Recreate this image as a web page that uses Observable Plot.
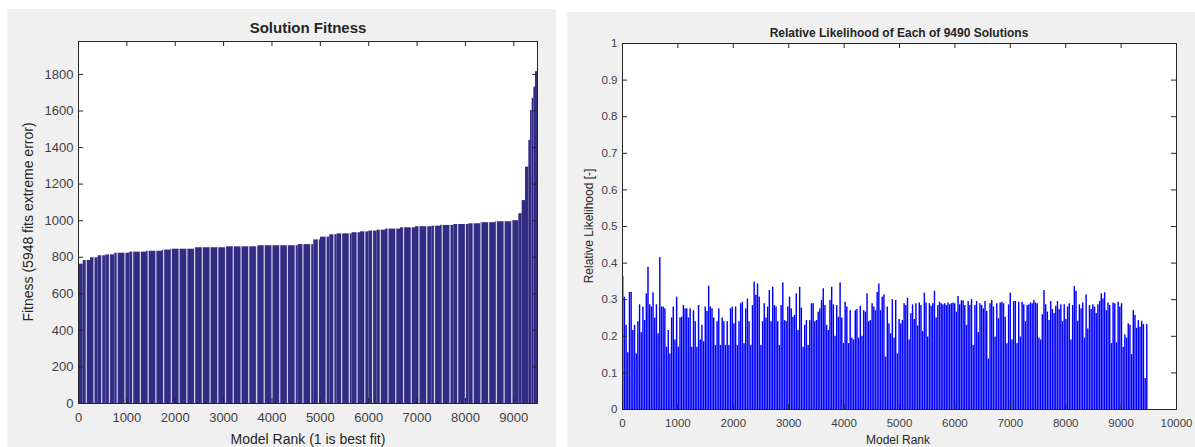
<!DOCTYPE html>
<html>
<head>
<meta charset="utf-8">
<script src="https://cdn.jsdelivr.net/npm/d3@7"></script>
<script src="https://cdn.jsdelivr.net/npm/@observablehq/plot@0.6"></script>
<style>
  html, body { margin: 0; padding: 0; background: #ffffff; width: 1195px; height: 447px; overflow: hidden; }
  body { position: relative; font-family: "Liberation Sans", Arial, Helvetica, sans-serif; color: #262626; }
  .panel { position: absolute; background: #f0f0f0; overflow: hidden; }
  .panel svg { position: absolute; left: 0; top: 0; }
  .lbl { position: absolute; white-space: nowrap; text-align: center; color: #262626; }
  .rot { transform: translate(-50%, -50%) rotate(-90deg); }
  .hc { transform: translate(-50%, -50%); }
</style>
</head>
<body>
<div id="left" class="panel" style="left:7px; top:9px; width:549px; height:438px;"></div>
<div id="right" class="panel" style="left:567px; top:12px; width:628px; height:435px;"></div>

<div class="lbl hc" style="left:308px; top:27px; font-size:15px; font-weight:bold;">Solution Fitness</div>
<div class="lbl rot" style="left:28px; top:222px; font-size:14px;">Fitness (5948 fits extreme error)</div>
<div class="lbl hc" style="left:308px; top:439px; font-size:14px;">Model Rank (1 is best fit)</div>

<div class="lbl hc" style="left:899px; top:33px; font-size:12px; font-weight:bold;">Relative Likelihood of Each of 9490 Solutions</div>
<div class="lbl rot" style="left:589px; top:226px; font-size:12px;">Relative Likelihood [-]</div>
<div class="lbl hc" style="left:898px; top:440px; font-size:12px;">Model Rank</div>

<script>
// ---------- Left chart data: sorted fitness (step segments by model rank) ----------
const nSolutions = 9490;
const fitRankStart = [0, 97, 248, 407, 565, 751, 1062, 1406, 1737, 1902, 2405, 3060, 3715, 4542, 4865, 5003, 5196, 5348, 5658, 5830, 6003, 6175, 6347, 6657, 6967, 7312, 7484, 7760, 8070, 8311, 8622, 8966, 9104, 9173, 9242, 9311, 9346, 9380, 9415, 9449];
const fitness      = [762, 782, 797, 808, 813, 822, 828, 833, 839, 844, 852, 857, 863, 869, 895, 910, 923, 928, 934, 939, 943, 948, 954, 961, 967, 970, 974, 979, 983, 989, 994, 1000, 1038, 1110, 1293, 1439, 1603, 1669, 1731, 1815];
const fitYTicks = [0, 200, 400, 600, 800, 1000, 1200, 1400, 1600, 1800];
const fitXTicks = [0, 1000, 2000, 3000, 4000, 5000, 6000, 7000, 8000, 9000];

// ---------- Right chart data: relative likelihood, in rank order ----------
const likelihood = [
0.364, 0.307, 0.23, 0.155, 0.32, 0.32, 0.216, 0.23, 0.152, 0.24, 0.286, 0.21, 0.28, 0.243, 0.316, 0.389, 0.286, 0.28, 0.319, 0.25,
0.286, 0.207, 0.415, 0.28, 0.28, 0.275, 0.17, 0.216, 0.152, 0.25, 0.28, 0.19, 0.307, 0.17, 0.25, 0.252, 0.284, 0.275, 0.275, 0.25,
0.275, 0.17, 0.27, 0.24, 0.17, 0.284, 0.19, 0.23, 0.185, 0.28, 0.268, 0.337, 0.28, 0.275, 0.25, 0.175, 0.24, 0.275, 0.175, 0.25,
0.24, 0.175, 0.24, 0.175, 0.275, 0.28, 0.234, 0.28, 0.175, 0.24, 0.289, 0.293, 0.18, 0.275, 0.302, 0.24, 0.175, 0.284, 0.348, 0.312,
0.343, 0.307, 0.175, 0.24, 0.289, 0.25, 0.28, 0.325, 0.24, 0.334, 0.284, 0.28, 0.24, 0.175, 0.284, 0.346, 0.243, 0.24, 0.28, 0.307,
0.275, 0.252, 0.257, 0.316, 0.216, 0.334, 0.277, 0.17, 0.23, 0.243, 0.175, 0.243, 0.289, 0.289, 0.24, 0.243, 0.266, 0.275, 0.298, 0.33,
0.284, 0.23, 0.216, 0.298, 0.334, 0.286, 0.2, 0.284, 0.252, 0.346, 0.25, 0.18, 0.293, 0.28, 0.18, 0.27, 0.195, 0.19, 0.27, 0.273,
0.195, 0.282, 0.2, 0.27, 0.266, 0.316, 0.24, 0.243, 0.289, 0.28, 0.27, 0.32, 0.343, 0.27, 0.307, 0.313,
0.143, 0.28, 0.234, 0.207, 0.3, 0.195, 0.298, 0.152, 0.246, 0.234, 0.243, 0.289, 0.284, 0.304, 0.19, 0.262, 0.286, 0.246, 0.289, 0.228,
0.291, 0.284, 0.213, 0.318, 0.291, 0.198, 0.289, 0.282, 0.289, 0.323, 0.25, 0.284, 0.293, 0.289, 0.286, 0.289, 0.284, 0.291, 0.286, 0.289,
0.291, 0.289, 0.266, 0.309, 0.286, 0.297, 0.297, 0.284, 0.23, 0.295, 0.284, 0.3, 0.175, 0.284, 0.295, 0.21, 0.289, 0.284, 0.275, 0.295,
0.268, 0.138, 0.289, 0.298, 0.28, 0.198, 0.289, 0.248, 0.291, 0.293, 0.289, 0.252, 0.18, 0.286, 0.318, 0.19, 0.295, 0.295, 0.18, 0.293,
0.198, 0.293, 0.286, 0.24, 0.284, 0.286, 0.291, 0.289, 0.298, 0.291, 0.289, 0.195, 0.19, 0.259, 0.325, 0.286, 0.266, 0.243, 0.295, 0.273,
0.262, 0.282, 0.295, 0.273, 0.286, 0.24, 0.286, 0.246, 0.28, 0.289, 0.19, 0.284, 0.336, 0.323, 0.241, 0.286, 0.275, 0.291, 0.195, 0.313,
0.22, 0.284, 0.273, 0.286, 0.28, 0.262, 0.286, 0.295, 0.316, 0.302, 0.319, 0.27, 0.291, 0.284, 0.18, 0.291, 0.289, 0.182, 0.293, 0.28,
0.289, 0.17, 0.204, 0.195, 0.234, 0.23, 0.15, 0.27, 0.257, 0.222, 0.243, 0.225, 0.241, 0.232, 0.085, 0.232
];
const likYTicks = [0, 0.1, 0.2, 0.3, 0.4, 0.5, 0.6, 0.7, 0.8, 0.9, 1];
const likXTicks = [0, 1000, 2000, 3000, 4000, 5000, 6000, 7000, 8000, 9000, 10000];

const axisColor = "#262626";
const font = "'Liberation Sans', Arial, Helvetica, sans-serif";

// ---------- Left chart ----------
{
  const W = 549, H = 438, mL = 71, mR = 19, mT = 32, mB = 44;
  const pw = W - mL - mR, ph = H - mT - mB;
  const segs = fitness.map((v, i) => ({
    x1: fitRankStart[i],
    x2: i + 1 < fitRankStart.length ? fitRankStart[i + 1] : nSolutions,
    y: v
  }));
  // thin light separators that the bar renderer shows between groups of bars
  const gaps = d3.range(160, 9104, 160);
  const tl = 5;
  const chart = Plot.plot({
    width: W, height: H, marginLeft: mL, marginRight: mR, marginTop: mT, marginBottom: mB,
    style: {background: "transparent", fontFamily: font, fontSize: "13px", color: axisColor},
    x: {domain: [0, nSolutions]},
    y: {domain: [0, 1980]},
    marks: [
      Plot.frame({fill: "white", stroke: null}),
      Plot.rectY(segs, {x1: "x1", x2: "x2", y: "y", fill: "#332c85"}),
      Plot.ruleX(gaps, {x: d => d, stroke: "white", strokeOpacity: 0.8, strokeWidth: 1.2}),
      Plot.tickY(fitYTicks, {y: d => d, insetRight: pw - tl, stroke: axisColor}),
      Plot.tickY(fitYTicks, {y: d => d, insetLeft: pw - tl, stroke: axisColor}),
      Plot.tickX(fitXTicks, {x: d => d, insetTop: ph - tl, stroke: axisColor}),
      Plot.tickX(fitXTicks, {x: d => d, insetBottom: ph - tl, stroke: axisColor}),
      Plot.axisY({ticks: fitYTicks, tickSize: 0, tickPadding: 5, label: null, fontSize: 13, fill: "#404040", tickFormat: d => String(d)}),
      Plot.axisX({ticks: fitXTicks, tickSize: 0, tickPadding: 9, label: null, fontSize: 13, fill: "#404040", tickFormat: d => String(d)}),
      Plot.frame({stroke: axisColor, strokeWidth: 1})
    ]
  });
  document.getElementById("left").appendChild(chart);
}

// ---------- Right chart ----------
{
  const W = 628, H = 435, mL = 55, mR = 19, mT = 31, mB = 38;
  const pw = W - mL - mR, ph = H - mT - mB;
  const w = nSolutions / likelihood.length;
  const bars = likelihood.map((v, i) => ({x1: i * w, x2: (i + 1) * w, y: v}));
  const tl = 5;
  const chart = Plot.plot({
    width: W, height: H, marginLeft: mL, marginRight: mR, marginTop: mT, marginBottom: mB,
    style: {background: "transparent", fontFamily: font, fontSize: "11px", color: axisColor},
    x: {domain: [0, 10000]},
    y: {domain: [0, 1]},
    marks: [
      Plot.frame({fill: "white", stroke: null}),
      Plot.rectY(bars, {x1: "x1", x2: "x2", y: "y", fill: "#0000ff", insetRight: 0.25}),
      Plot.tickY(likYTicks, {y: d => d, insetRight: pw - tl, stroke: axisColor}),
      Plot.tickY(likYTicks, {y: d => d, insetLeft: pw - tl, stroke: axisColor}),
      Plot.tickX(likXTicks, {x: d => d, insetTop: ph - tl, stroke: axisColor}),
      Plot.tickX(likXTicks, {x: d => d, insetBottom: ph - tl, stroke: axisColor}),
      Plot.axisY({ticks: likYTicks, tickSize: 0, tickPadding: 5, label: null, fontSize: 11.5, fill: "#404040", tickFormat: d => String(+d.toFixed(1))}),
      Plot.axisX({ticks: likXTicks, tickSize: 0, tickPadding: 9, label: null, fontSize: 11.5, fill: "#404040", tickFormat: d => String(d)}),
      Plot.frame({stroke: axisColor, strokeWidth: 1})
    ]
  });
  document.getElementById("right").appendChild(chart);
}
</script>
</body>
</html>
